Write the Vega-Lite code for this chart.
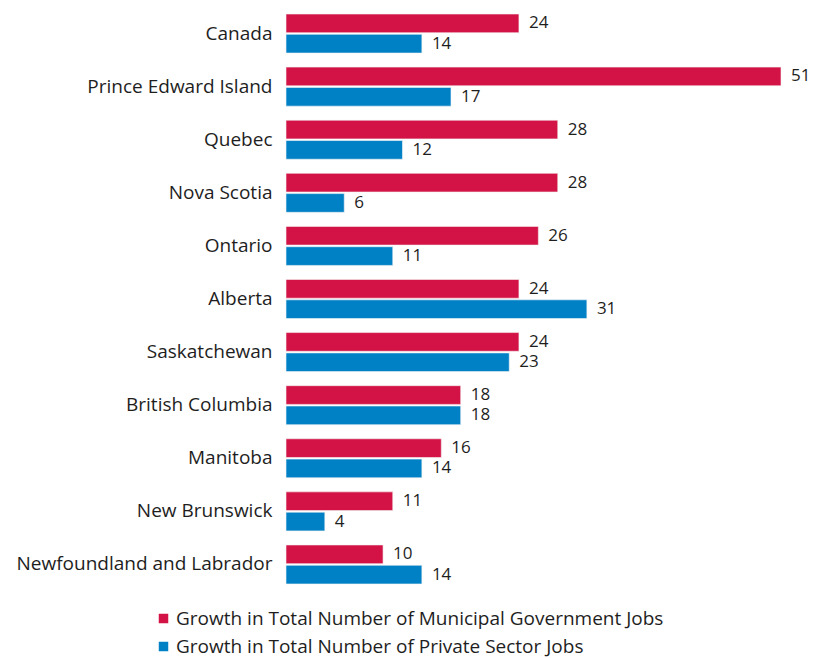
{
  "$schema": "https://vega.github.io/schema/vega-lite/v6.json",
  "autosize": {"type": "none"},
  "padding": {"left": 286, "top": 0, "right": 33, "bottom": 60},
  "width": 495,
  "height": 598,
  "background": "white",
  "config": {
    "view": {"stroke": null},
    "font": "Open Sans"
  },
  "data": {
    "values": [
      {"region": "Canada", "series": "Growth in Total Number of Municipal  Government Jobs", "value": 24},
      {"region": "Canada", "series": "Growth in Total Number of Private Sector Jobs", "value": 14},
      {"region": "Prince Edward Island", "series": "Growth in Total Number of Municipal  Government Jobs", "value": 51},
      {"region": "Prince Edward Island", "series": "Growth in Total Number of Private Sector Jobs", "value": 17},
      {"region": "Quebec", "series": "Growth in Total Number of Municipal  Government Jobs", "value": 28},
      {"region": "Quebec", "series": "Growth in Total Number of Private Sector Jobs", "value": 12},
      {"region": "Nova Scotia", "series": "Growth in Total Number of Municipal  Government Jobs", "value": 28},
      {"region": "Nova Scotia", "series": "Growth in Total Number of Private Sector Jobs", "value": 6},
      {"region": "Ontario", "series": "Growth in Total Number of Municipal  Government Jobs", "value": 26},
      {"region": "Ontario", "series": "Growth in Total Number of Private Sector Jobs", "value": 11},
      {"region": "Alberta", "series": "Growth in Total Number of Municipal  Government Jobs", "value": 24},
      {"region": "Alberta", "series": "Growth in Total Number of Private Sector Jobs", "value": 31},
      {"region": "Saskatchewan", "series": "Growth in Total Number of Municipal  Government Jobs", "value": 24},
      {"region": "Saskatchewan", "series": "Growth in Total Number of Private Sector Jobs", "value": 23},
      {"region": "British Columbia", "series": "Growth in Total Number of Municipal  Government Jobs", "value": 18},
      {"region": "British Columbia", "series": "Growth in Total Number of Private Sector Jobs", "value": 18},
      {"region": "Manitoba", "series": "Growth in Total Number of Municipal  Government Jobs", "value": 16},
      {"region": "Manitoba", "series": "Growth in Total Number of Private Sector Jobs", "value": 14},
      {"region": "New Brunswick", "series": "Growth in Total Number of Municipal  Government Jobs", "value": 11},
      {"region": "New Brunswick", "series": "Growth in Total Number of Private Sector Jobs", "value": 4},
      {"region": "Newfoundland and Labrador", "series": "Growth in Total Number of Municipal  Government Jobs", "value": 10},
      {"region": "Newfoundland and Labrador", "series": "Growth in Total Number of Private Sector Jobs", "value": 14}
    ]
  },
  "encoding": {
    "y": {
      "field": "region",
      "type": "nominal",
      "sort": null,
      "title": null,
      "scale": {"paddingInner": 0.265, "paddingOuter": 0.264},
      "axis": {
        "domain": false,
        "ticks": false,
        "labelFontSize": 19,
        "labelColor": "#1e1e1e",
        "labelPadding": 14,
        "labelLimit": 300
      }
    },
    "yOffset": {
      "field": "series",
      "type": "nominal",
      "sort": null,
      "scale": {"paddingInner": 0.08}
    },
    "x": {
      "field": "value",
      "type": "quantitative",
      "scale": {"domain": [0, 51], "nice": false},
      "axis": null
    }
  },
  "layer": [
    {
      "mark": {"type": "bar", "stroke": "#f4f4f4", "strokeWidth": 0.6},
      "encoding": {
        "color": {
          "field": "series",
          "type": "nominal",
          "sort": null,
          "scale": {
            "domain": ["Growth in Total Number of Municipal  Government Jobs", "Growth in Total Number of Private Sector Jobs"],
            "range": ["#D31245", "#0081C6"]
          },
          "legend": {
            "title": null,
            "orient": "none",
            "legendX": -132,
            "legendY": 609,
            "direction": "vertical",
            "symbolType": "square",
            "symbolSize": 90,
            "symbolStrokeWidth": 0,
            "labelFontSize": 19,
            "labelColor": "#1e1e1e",
            "labelLimit": 700,
            "labelOffset": 3,
            "rowPadding": 8
          }
        }
      }
    },
    {
      "mark": {"type": "text", "align": "left", "baseline": "middle", "dx": 10, "fontSize": 17, "color": "#1e1e1e"},
      "encoding": {
        "text": {"field": "value", "type": "quantitative"}
      }
    }
  ]
}
